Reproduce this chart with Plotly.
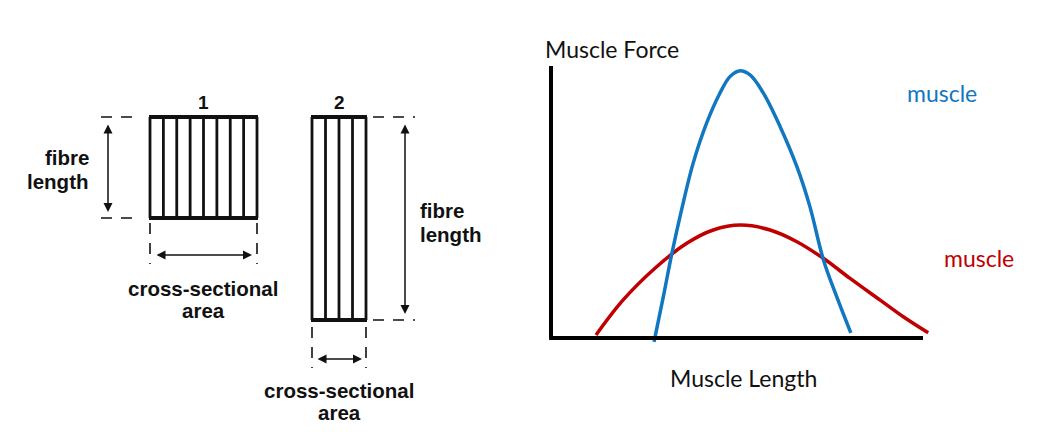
import plotly.graph_objects as go

# ---- data -------------------------------------------------------------
box_labels = ["1", "2"]
fibres_per_box = [8, 4]
dim_text = [["fibre", "length"], ["cross-sectional", "area"]]

axis_titles = ["Muscle Force", "Muscle Length"]
curve_names = ["muscle", "muscle"]

# blue curve: short, steep force-length relation
blue_length = [27.7, 30.2, 32.4, 35.1, 38.2, 41.8, 45.4, 48.1, 50.6, 53.5,
               57.1, 61.6, 66.1, 69.6, 73.2, 76.8, 80.6]
blue_force = [-1.4, 15.2, 30.5, 47.1, 64.2, 78.9, 90.0, 96.1, 98.2, 96.7,
              90.0, 77.7, 63.0, 48.3, 28.9, 15.2, 1.9]

# red curve: long, flat force-length relation
red_length = [12.1, 19.4, 28.4, 36.5, 43.6, 51.0, 58.9, 66.1, 73.2, 80.4,
              88.4, 94.7, 101.4]
red_force = [1.1, 14.0, 26.2, 34.8, 39.7, 41.5, 39.7, 35.4, 29.3, 21.9,
             14.0, 7.8, 1.9]

BLUE = "#1177C0"
RED = "#C00000"
W, H = 1048, 442
OFF = 8  # default body margin of the html page
FW, FH = W - 2 * OFF, H - 2 * OFF

fig = go.Figure()

# ---- left: fibre diagrams (page-pixel axis x/y) ---------------------------
boxes = [
    dict(x0=150, x1=257, y0=117, y1=218, lab_y=102),
    dict(x0=312, x1=366, y0=117, y1=320, lab_y=102),
]
shapes = []
annos = []
txt_font = dict(family="Liberation Sans", size=20.5, color="#111")

for b, lab, n in zip(boxes, box_labels, fibres_per_box):
    x0, x1, y0, y1 = b["x0"], b["x1"], b["y0"], b["y1"]
    step = (x1 - x0) / n
    for i in range(n + 1):
        xi = x0 + i * step
        shapes.append(dict(type="line", xref="x", yref="y", x0=xi, x1=xi, y0=y0, y1=y1,
                           line=dict(color="#111", width=2.8)))
    for yy in (y0, y1):
        shapes.append(dict(type="line", xref="x", yref="y", x0=x0 - 1, x1=x1 + 1, y0=yy, y1=yy,
                           line=dict(color="#111", width=4)))
    annos.append(dict(x=(x0 + x1) / 2, y=b["lab_y"], xref="x", yref="y", text="<b>%s</b>" % lab,
                      showarrow=False, font=dict(family="Liberation Sans", size=19, color="#111")))

def dash(x0, x1, y0, y1):
    shapes.append(dict(type="line", xref="x", yref="y", x0=x0, x1=x1, y0=y0, y1=y1,
                       line=dict(color="#111", width=1.6, dash="11px,9px")))

def darrow(x0, y0, x1, y1):
    annos.append(dict(x=x1, y=y1, ax=x0, ay=y0, xref="x", yref="y", axref="x", ayref="y",
                      text="", showarrow=True, arrowhead=2, startarrowhead=2,
                      arrowside="end+start", arrowsize=1.2, arrowwidth=1.5,
                      startarrowsize=1.2, arrowcolor="#111"))

def label(lines, x, ys, anchor):
    for t, y in zip(lines, ys):
        annos.append(dict(x=x, y=y, xref="x", yref="y", text="<b>%s</b>" % t,
                          showarrow=False, xanchor=anchor, font=txt_font))

# box 1 dimensions
dash(101, 141, 117, 117)
dash(101, 141, 218, 218)
darrow(108, 123, 108, 212)
label(dim_text[0], 91, [157, 181], "right")
dash(150, 150, 223, 264)
dash(257, 257, 223, 264)
darrow(155, 255, 252, 255)
label(dim_text[1], 203, [288, 310], "center")

# box 2 dimensions
dash(373, 415, 117, 117)
dash(373, 415, 320, 320)
darrow(405, 123, 405, 314)
label(dim_text[0], 418, [210, 234], "left")
dash(312, 312, 327, 368)
dash(366, 366, 327, 368)
darrow(316, 359, 362, 359)
label(dim_text[1], 339, [390, 412], "center")

# ---- right: force-length curves (x2/y2) ----------------------------------
fig.add_trace(go.Scatter(x=red_length, y=red_force, mode="lines", line_shape="spline",
                         line=dict(color=RED, width=3.5), xaxis="x2", yaxis="y2",
                         showlegend=False, hoverinfo="skip"))
fig.add_trace(go.Scatter(x=blue_length, y=blue_force, mode="lines", line_shape="spline",
                         line=dict(color=BLUE, width=3.5), xaxis="x2", yaxis="y2",
                         showlegend=False, hoverinfo="skip"))

shapes.append(dict(type="line", xref="x2", yref="y2", x0=0, x1=0, y0=0, y1=100,
                   line=dict(color="black", width=4)))
shapes.append(dict(type="line", xref="x2", yref="y2", x0=-0.5, x1=100, y0=0, y1=0,
                   line=dict(color="black", width=4)))

lab_font = dict(family="Lato", size=23, color="#111")
annos.append(dict(x=543, y=49, xref="x", yref="y", text=axis_titles[0], showarrow=False,
                  xanchor="left", font=lab_font))
annos.append(dict(x=743, y=378, xref="x", yref="y", text=axis_titles[1], showarrow=False,
                  font=lab_font))
annos.append(dict(x=942, y=93, xref="x", yref="y", text=curve_names[0], showarrow=False,
                  font=dict(family="Lato", size=23, color=BLUE)))
annos.append(dict(x=979, y=258, xref="x", yref="y", text=curve_names[1], showarrow=False,
                  font=dict(family="Lato", size=23, color=RED)))


def dom(p0, p1, size):
    return [(p0 - OFF) / size, (p1 - OFF) / size]


hid = dict(visible=False, showgrid=False, zeroline=False, fixedrange=True)
fig.update_layout(
    width=FW, height=FH,
    margin=dict(l=0, r=0, t=0, b=0),
    paper_bgcolor="white", plot_bgcolor="rgba(0,0,0,0)",
    xaxis=dict(range=[OFF, OFF + FW], domain=[0, 1], **hid),
    yaxis=dict(range=[OFF + FH, OFF], domain=[0, 1], **hid),
    xaxis2=dict(range=[-5, 110], domain=dom(532.4, 960.2, FW), anchor="y2", **hid),
    yaxis2=dict(range=[-5, 105], domain=[1 - (351.6 - OFF) / FH, 1 - (52.4 - OFF) / FH],
                anchor="x2", **hid),
    shapes=shapes,
    annotations=annos,
)

fig.write_html("out.html")
